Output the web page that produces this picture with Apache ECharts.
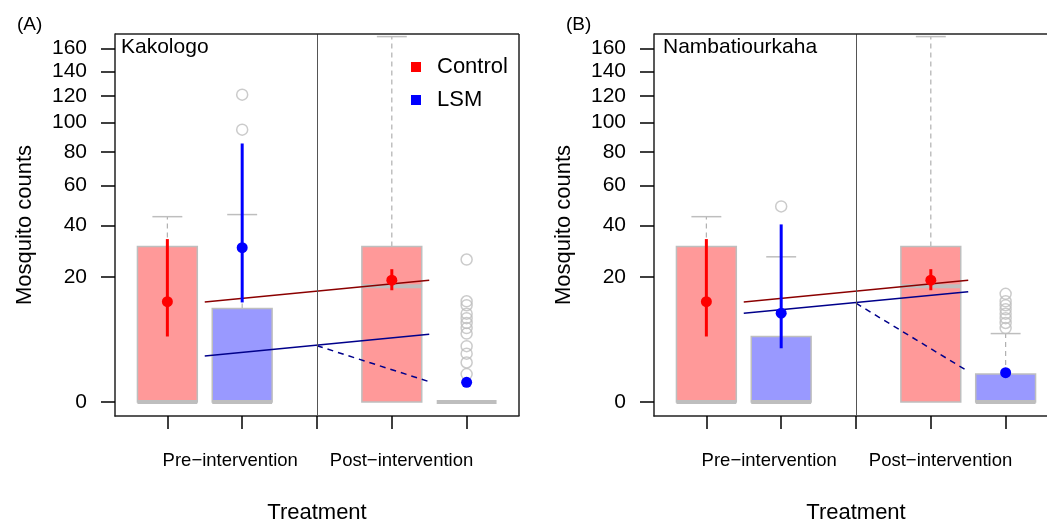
<!DOCTYPE html>
<html>
<head>
<meta charset="utf-8">
<script src="https://cdn.jsdelivr.net/npm/echarts@6/dist/echarts.min.js"></script>
<style>
  html, body { margin: 0; padding: 0; background: #fff; }
  #main { width: 1047px; height: 521px; }
</style>
</head>
<body>
<div id="main"></div>
<script>
var yTicks = [0, 20, 40, 60, 80, 100, 120, 140, 160];
var xTicks = [1, 2, 3, 4, 5];
var groupLabels = ['Pre\u2212intervention', 'Post\u2212intervention'];
var groupLabelPos = [1.84, 4.13];
var panelNames = ['Kakologo', 'Nambatiourkaha'];
var panelTags = ['(A)', '(B)'];

// box stats: [position, min, q1, median, q3, max]
var ctrlBoxA = [[1, 0, 0, 0, 31, 44], [4, 0, 0, 17.2, 31, 171]];
var lsmBoxA = [[2, 0, 0, 0, 11.2, 45], [5, 0, 0, 0, 0, 0]];
var lsmOutA = [[2, 95], [2, 121], [5, 1], [5, 2], [5, 3], [5, 4], [5, 6], [5, 7], [5, 8], [5, 9], [5, 10], [5, 12], [5, 13], [5, 26]];
// mean and interval: [position, mean, low, high]
var ctrlMeanA = [[1, 12.9, 5.5, 34], [4, 19, 16, 22.6]];
var lsmMeanA = [[2, 30.5, 12.7, 85.6], [5, 0.5, 0.4, 0.65]];
var ctrlTrendA = [[1.5, 12.8], [4.5, 19.0]];
var lsmTrendA = [[1.5, 2.7], [4.5, 5.9]];
var lsmPostA = [[3, 4.06], [4.5, 0.53]];

var ctrlBoxB = [[1, 0, 0, 0, 31, 44], [4, 0, 0, 17.2, 31, 171]];
var lsmBoxB = [[2, 0, 0, 0, 5.5, 27], [5, 0, 0, 0, 1, 6]];
var lsmOutB = [[2, 49], [5, 7], [5, 8], [5, 9], [5, 10], [5, 11], [5, 12], [5, 13], [5, 15]];
var ctrlMeanB = [[1, 12.9, 5.5, 34], [4, 19, 16, 22.6]];
var lsmMeanB = [[2, 10.1, 3.7, 40.4], [5, 1.1, 0.95, 1.25]];
var ctrlTrendB = [[1.5, 12.8], [4.5, 19.0]];
var lsmTrendB = [[1.5, 10.1], [4.5, 15.6]];
var lsmPostB = [[3, 12.5], [4.5, 1.2]];

var FONT = 'Liberation Sans, Arial, sans-serif';
var GRAY = '#BEBEBE';
var X_MIN = 0.3, X_MAX = 5.7, Y_MIN = -0.5, Y_MAX = 13.17;

// y axis is on a square-root scale
function sq(rows) {
    return rows.map(function (r) {
        return r.map(function (v, i) { return i === 0 ? v : Math.sqrt(v); });
    });
}

function boxItem(fill) {
    return function (params, api) {
        var x = api.value(0);
        var mn = api.value(1), q1 = api.value(2), md = api.value(3), q3 = api.value(4), mx = api.value(5);
        var L = api.coord([x - 0.4, q1]), R = api.coord([x + 0.4, q3]);
        var mid = api.coord([x, md]);
        var top = api.coord([x, mx]), bot = api.coord([x, mn]);
        var capL = api.coord([x - 0.2, 0])[0], capR = api.coord([x + 0.2, 0])[0];
        var kids = [];
        if (mx > q3) {
            kids.push({ type: 'line', shape: { x1: mid[0], y1: R[1], x2: mid[0], y2: top[1] }, style: { stroke: '#B0B0B0', lineWidth: 1.2, lineDash: [5, 4] } });
            kids.push({ type: 'line', shape: { x1: capL, y1: top[1], x2: capR, y2: top[1] }, style: { stroke: GRAY, lineWidth: 1.5 } });
        }
        if (mn < q1) {
            kids.push({ type: 'line', shape: { x1: mid[0], y1: L[1], x2: mid[0], y2: bot[1] }, style: { stroke: '#B0B0B0', lineWidth: 1.2, lineDash: [5, 4] } });
            kids.push({ type: 'line', shape: { x1: capL, y1: bot[1], x2: capR, y2: bot[1] }, style: { stroke: GRAY, lineWidth: 1.5 } });
        }
        if (q3 > q1) {
            kids.push({ type: 'rect', shape: { x: L[0], y: R[1], width: R[0] - L[0], height: L[1] - R[1] }, style: { fill: fill, stroke: GRAY, lineWidth: 1.5 } });
        }
        kids.push({ type: 'line', shape: { x1: L[0], y1: mid[1], x2: R[0], y2: mid[1] }, style: { stroke: GRAY, lineWidth: 4 } });
        return { type: 'group', children: kids };
    };
}

function meanItem(params, api) {
    var x = api.value(0);
    var pm = api.coord([x, api.value(1)]);
    var lo = api.coord([x, api.value(2)]);
    var hi = api.coord([x, api.value(3)]);
    var c = api.visual('color');
    return {
        type: 'group',
        children: [
            { type: 'line', shape: { x1: pm[0], y1: lo[1], x2: pm[0], y2: hi[1] }, style: { stroke: c, lineWidth: 3 } },
            { type: 'circle', shape: { cx: pm[0], cy: pm[1], r: 5.5 }, style: { fill: c } }
        ]
    };
}

function panelSeries(gi, d) {
    var frame = [
        { xAxis: 3, lineStyle: { color: '#555', width: 1, type: 'solid' } },
        { yAxis: Y_MAX, lineStyle: { color: '#222', width: 1.5, type: 'solid' } }
    ];
    // right edge of panel B falls outside the canvas
    if (gi === 0) frame.push({ xAxis: X_MAX, lineStyle: { color: '#222', width: 1.5, type: 'solid' } });
    return [
        { name: 'Control box', type: 'custom', xAxisIndex: gi, yAxisIndex: gi, z: 1, renderItem: boxItem('#FF9999'), encode: { x: 0, y: [1, 5] }, data: sq(d.ctrlBox), silent: true },
        { name: 'LSM box', type: 'custom', xAxisIndex: gi, yAxisIndex: gi, z: 1, renderItem: boxItem('#9999FF'), encode: { x: 0, y: [1, 5] }, data: sq(d.lsmBox), silent: true },
        { name: 'LSM outliers', type: 'scatter', xAxisIndex: gi, yAxisIndex: gi, z: 2, symbol: 'circle', symbolSize: 11,
          itemStyle: { color: 'rgba(0,0,0,0)', borderColor: GRAY, borderWidth: 1.5 }, data: sq(d.lsmOut), silent: true },
        { name: 'Control trend', type: 'line', xAxisIndex: gi, yAxisIndex: gi, z: 3, symbol: 'none', lineStyle: { color: '#8B0000', width: 1.5 }, data: sq(d.ctrlTrend), silent: true,
          markLine: { silent: true, symbol: 'none', label: { show: false }, animation: false, data: frame } },
        { name: 'LSM trend', type: 'line', xAxisIndex: gi, yAxisIndex: gi, z: 3, symbol: 'none', lineStyle: { color: '#00008B', width: 1.5 }, data: sq(d.lsmTrend), silent: true },
        { name: 'LSM post', type: 'line', xAxisIndex: gi, yAxisIndex: gi, z: 3, symbol: 'none', lineStyle: { color: '#00008B', width: 1.5, type: [6, 5] }, data: sq(d.lsmPost), silent: true },
        { name: 'Control', type: 'custom', xAxisIndex: gi, yAxisIndex: gi, z: 4, renderItem: meanItem, itemStyle: { color: '#FF0000' }, encode: { x: 0, y: [1, 2, 3] }, data: sq(d.ctrlMean) },
        { name: 'LSM', type: 'custom', xAxisIndex: gi, yAxisIndex: gi, z: 4, renderItem: meanItem, itemStyle: { color: '#0000FF' }, encode: { x: 0, y: [1, 2, 3] }, data: sq(d.lsmMean) }
    ];
}

var grids = [
    { left: 115, top: 34, width: 404, height: 382 },
    { left: 654, top: 34, width: 404, height: 382 }
];

var chart = echarts.init(document.getElementById('main'));

var option = {
    animation: false,
    textStyle: { fontFamily: FONT },
    title: [
        { text: panelTags[0], left: 17, top: 15, padding: 0, textStyle: { fontSize: 19, fontWeight: 'normal', color: '#000', fontFamily: FONT } },
        { text: panelNames[0], left: 121, top: 37, padding: 0, textStyle: { fontSize: 21, fontWeight: 'normal', color: '#000', fontFamily: FONT } },
        { text: panelTags[1], left: 566, top: 15, padding: 0, textStyle: { fontSize: 19, fontWeight: 'normal', color: '#000', fontFamily: FONT } },
        { text: panelNames[1], left: 663, top: 37, padding: 0, textStyle: { fontSize: 21, fontWeight: 'normal', color: '#000', fontFamily: FONT } }
    ],
    legend: {
        data: ['Control', 'LSM'],
        orient: 'vertical',
        left: 411, top: 56, padding: 0,
        icon: 'rect', itemWidth: 10, itemHeight: 10, itemGap: 11,
        selectedMode: false,
        textStyle: { fontSize: 22, color: '#000', fontFamily: FONT, padding: [0, 0, 0, 11] }
    },
    grid: grids.map(function (g) {
        return Object.assign({ show: false, outerBoundsMode: 'none', containLabel: false }, g);
    }),
    xAxis: [0, 1].map(function (i) {
        return {
            type: 'value', gridIndex: i, min: X_MIN, max: X_MAX,
            splitLine: { show: false },
            axisLine: { show: true, onZero: false, lineStyle: { color: '#222', width: 1.5 } },
            axisTick: { show: true, customValues: xTicks, length: 13, inside: false, lineStyle: { color: '#000', width: 1.5 } },
            axisLabel: {
                show: true, customValues: groupLabelPos, margin: 35, fontSize: 18.5, color: '#000', fontFamily: FONT,
                formatter: function (v) {
                    var best = 0;
                    groupLabelPos.forEach(function (p, k) { if (Math.abs(p - v) < Math.abs(groupLabelPos[best] - v)) best = k; });
                    return groupLabels[best];
                }
            },
            name: 'Treatment', nameLocation: 'middle', nameGap: 86,
            nameTextStyle: { fontSize: 22, color: '#000', fontFamily: FONT }
        };
    }),
    yAxis: [0, 1].map(function (i) {
        return {
            type: 'value', gridIndex: i, min: Y_MIN, max: Y_MAX,
            splitLine: { show: false },
            axisLine: { show: true, onZero: false, lineStyle: { color: '#222', width: 1.5 } },
            axisTick: { show: true, customValues: yTicks.map(Math.sqrt), length: 14, inside: false, lineStyle: { color: '#000', width: 1.5 } },
            axisLabel: {
                show: true, customValues: yTicks.map(Math.sqrt), margin: 28, fontSize: 21, color: '#000', fontFamily: FONT,
                formatter: function (v) { return String(Math.round(v * v)); }
            },
            name: 'Mosquito counts', nameLocation: 'middle', nameRotate: 90, nameGap: 79,
            nameTextStyle: { fontSize: 22, color: '#000', fontFamily: FONT }
        };
    }),
    series: [].concat(
        panelSeries(0, { ctrlBox: ctrlBoxA, lsmBox: lsmBoxA, lsmOut: lsmOutA, ctrlMean: ctrlMeanA, lsmMean: lsmMeanA, ctrlTrend: ctrlTrendA, lsmTrend: lsmTrendA, lsmPost: lsmPostA }),
        panelSeries(1, { ctrlBox: ctrlBoxB, lsmBox: lsmBoxB, lsmOut: lsmOutB, ctrlMean: ctrlMeanB, lsmMean: lsmMeanB, ctrlTrend: ctrlTrendB, lsmTrend: lsmTrendB, lsmPost: lsmPostB })
    )
};

chart.setOption(option);

window.onresize = function () {
    chart.resize();
};
</script>
</body>
</html>
